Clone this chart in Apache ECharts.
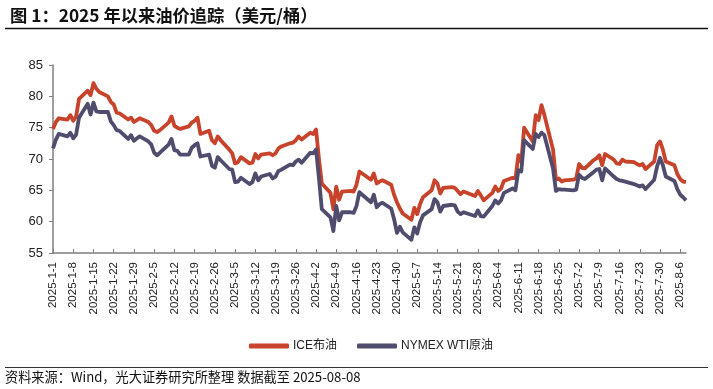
<!DOCTYPE html>
<html>
<head>
<meta charset="utf-8">
<script src="https://cdn.jsdelivr.net/npm/echarts@6/dist/echarts.min.js"></script>
<style>
html,body{margin:0;padding:0;background:#fff;}
#c{width:713px;height:389px;}
</style>
</head>
<body>
<div id="c"></div>
<script>
// trading dates (month-day, 2025)
const dates = [
'1-1','1-2','1-3','1-6','1-7','1-8','1-9','1-10','1-13','1-14','1-15','1-16','1-17','1-20','1-21','1-22','1-23','1-24','1-27','1-28','1-29','1-30','1-31',
'2-3','2-4','2-5','2-6','2-7','2-10','2-11','2-12','2-13','2-14','2-17','2-18','2-19','2-20','2-21','2-24','2-25','2-26','2-27','2-28',
'3-3','3-4','3-5','3-6','3-7','3-10','3-11','3-12','3-13','3-14','3-17','3-18','3-19','3-20','3-21','3-24','3-25','3-26','3-27','3-28','3-31',
'4-1','4-2','4-3','4-4','4-7','4-8','4-9','4-10','4-11','4-14','4-15','4-16','4-17','4-21','4-22','4-23','4-24','4-25','4-28','4-29','4-30',
'5-1','5-2','5-5','5-6','5-7','5-8','5-9','5-12','5-13','5-14','5-15','5-16','5-19','5-20','5-21','5-22','5-23','5-27','5-28','5-29','5-30',
'6-2','6-3','6-4','6-5','6-6','6-9','6-10','6-11','6-12','6-13','6-16','6-17','6-18','6-19','6-20','6-23','6-24','6-25','6-26','6-27','6-30',
'7-1','7-2','7-3','7-4','7-7','7-8','7-9','7-10','7-11','7-14','7-15','7-16','7-17','7-18','7-21','7-22','7-23','7-24','7-25','7-28','7-29','7-30','7-31',
'8-1','8-4','8-5','8-6','8-7','8-8'
];
const brent = [
74.8,75.9,76.5,76.3,77.0,76.1,76.8,79.6,80.9,80.2,82.1,81.2,80.7,80.0,79.1,78.7,77.4,77.3,76.3,76.6,75.9,76.2,76.5,
75.9,75.4,74.5,74.3,74.6,75.8,76.8,75.3,75.0,74.8,75.2,75.8,76.1,76.6,74.0,74.5,73.0,72.5,73.6,73.0,
71.5,70.9,69.3,69.5,70.3,69.3,69.4,70.8,70.1,70.7,70.9,70.6,70.9,71.7,72.0,72.5,72.6,73.0,73.6,73.1,74.2,
74.0,74.7,70.1,66.1,64.6,62.0,65.6,63.5,64.8,64.9,64.8,65.9,68.0,66.7,67.7,66.1,66.4,66.6,65.9,64.3,63.1,
62.1,61.3,60.3,62.2,61.2,62.8,63.9,65.0,66.6,66.1,64.5,65.4,65.5,65.4,64.9,64.4,64.8,64.1,64.9,64.2,63.4,
64.6,65.6,64.9,65.3,66.5,67.0,66.9,70.6,69.5,75.0,72.8,77.0,76.2,78.6,77.0,71.5,66.7,66.9,66.4,66.6,66.7,
66.9,69.2,68.6,68.5,69.8,70.1,70.6,69.0,70.8,69.9,69.3,69.2,69.9,69.6,69.5,69.2,69.0,69.2,68.4,69.6,72.2,72.8,71.5,
69.6,69.0,67.6,66.8,66.4,66.3
];
const wti = [
71.7,73.1,74.0,73.6,74.2,73.3,73.9,76.6,78.8,77.1,79.0,77.6,77.5,77.5,76.0,75.4,74.6,74.5,73.2,73.8,72.9,73.3,73.6,
72.8,72.3,71.0,70.6,71.0,72.3,73.2,71.4,71.3,70.7,70.7,71.8,72.2,72.5,70.4,70.7,68.9,68.6,70.3,69.8,
68.4,68.3,66.3,66.4,67.0,66.0,66.3,67.7,66.6,67.2,67.6,66.9,67.2,68.1,68.3,69.1,69.0,69.6,69.9,69.4,71.0,
70.9,71.5,67.0,62.0,60.7,58.5,62.5,60.2,61.5,61.5,61.4,62.5,64.7,63.1,64.3,62.3,62.8,63.0,62.1,60.4,58.2,
59.2,58.3,57.1,59.1,58.1,59.9,61.0,62.0,63.6,63.1,61.6,62.5,62.7,62.6,61.6,61.2,61.5,60.9,61.8,60.9,60.8,
62.5,63.4,62.9,63.4,64.6,65.3,65.0,68.2,68.0,73.0,71.6,74.0,73.5,74.2,73.8,68.5,64.9,65.2,65.1,65.1,65.0,
65.1,67.5,67.0,66.8,67.9,68.3,68.4,66.6,68.5,67.2,66.8,66.6,66.5,66.4,66.0,65.8,65.6,65.8,65.2,66.7,68.8,70.2,69.0,
67.2,66.5,65.2,64.3,63.9,63.4
];
const seriesNames = ['ICE布油', 'NYMEX WTI原油'];
const yTicks = {min: 55, max: 85, step: 5};
const xStart = '2025-1-1', xEnd = '2025-8-8', xStepDays = 7;

function dayIndex(md) {
  const p = md.split('-').map(Number);
  return Math.round((Date.UTC(2025, p[0] - 1, p[1]) - Date.UTC(2025, 0, 1)) / 86400000);
}
function labelOf(idx) {
  const d = new Date(Date.UTC(2025, 0, 1) + idx * 86400000);
  return d.getUTCFullYear() + '-' + (d.getUTCMonth() + 1) + '-' + d.getUTCDate();
}
const xMax = dayIndex(xEnd.slice(5));
const brentData = dates.map((d, i) => [dayIndex(d), brent[i]]);
const wtiData = dates.map((d, i) => [dayIndex(d), wti[i]]);

const chart = echarts.init(document.getElementById('c'), null, {renderer: 'canvas'});
const axisColor = '#7f7f7f';
const txt = '#222';
const font = 'Arial, "Liberation Sans", "Noto Sans CJK SC", sans-serif';
chart.setOption({
  animation: false,
  backgroundColor: '#fff',
  title: {
    text: '图 1：2025 年以来油价追踪（美元/桶）',
    left: 5, top: 2,
    textStyle: {fontSize: 17.3, fontWeight: 'bold', color: '#111', fontFamily: '"Noto Sans CJK SC", sans-serif'}
  },
  graphic: [
    {type: 'line', shape: {x1: 5, y1: 28.5, x2: 708, y2: 28.5}, style: {stroke: '#111', lineWidth: 1.5}},
    {type: 'line', shape: {x1: 5, y1: 367.5, x2: 708, y2: 367.5}, style: {stroke: '#333', lineWidth: 1.2}},
    {type: 'text', left: 5, top: 370, style: {text: '资料来源：Wind，光大证券研究所整理 数据截至 2025-08-08', fontSize: 13.2, fill: '#111', fontFamily: '"Noto Sans CJK SC", sans-serif'}}
  ],
  legend: {
    data: seriesNames,
    left: 244, top: 335,
    icon: 'roundRect',
    itemWidth: 40, itemHeight: 5,
    itemGap: 20,
    textStyle: {fontSize: 12, color: txt, fontFamily: font, padding: [0, 0, 0, -1]}
  },
  grid: {left: 53, right: 27, top: 65, bottom: 136, containLabel: false},
  xAxis: {
    type: 'value',
    min: 0, max: xMax, interval: xStepDays,
    axisLine: {show: true, lineStyle: {color: axisColor, width: 1.5}},
    axisTick: {show: true, inside: true, length: 4, lineStyle: {color: axisColor, width: 1}},
    axisLabel: {
      rotate: 90, fontSize: 11.5, color: txt, fontFamily: font, margin: 9,
      showMaxLabel: false,
      formatter: v => (v % xStepDays === 0 ? labelOf(v) : '')
    },
    splitLine: {show: false}
  },
  yAxis: {
    type: 'value',
    min: yTicks.min, max: yTicks.max, interval: yTicks.step,
    axisLine: {show: true, lineStyle: {color: axisColor, width: 1.5}},
    axisTick: {show: true, length: 4, lineStyle: {color: axisColor}},
    axisLabel: {fontSize: 13, color: txt, fontFamily: font, margin: 10},
    splitLine: {show: false}
  },
  series: [
    {name: seriesNames[0], type: 'line', data: brentData, showSymbol: false, symbol: 'none',
     lineStyle: {width: 3.8, color: '#C8432B', join: 'round'}, itemStyle: {color: '#C8432B'}, z: 2},
    {name: seriesNames[1], type: 'line', data: wtiData, showSymbol: false, symbol: 'none',
     lineStyle: {width: 3.8, color: '#4F4C6D', join: 'round'}, itemStyle: {color: '#4F4C6D'}, z: 3}
  ]
});
</script>
</body>
</html>
